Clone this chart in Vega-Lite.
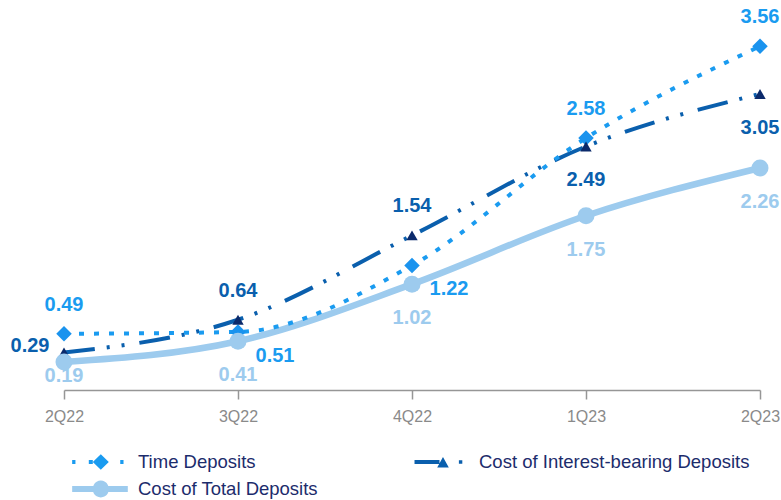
{
  "$schema": "https://vega.github.io/schema/vega-lite/v6.json",
  "width": 696,
  "height": 385,
  "autosize": {"type": "none"},
  "padding": {"left": 64, "top": 5, "right": 21, "bottom": 110},
  "background": "#ffffff",
  "config": {"view": {"stroke": null}, "font": "Liberation Sans"},
  "data": {
    "values": [
      {"series": "Time Deposits", "q": "2Q22", "v": 0.49},
      {"series": "Time Deposits", "q": "3Q22", "v": 0.51},
      {"series": "Time Deposits", "q": "4Q22", "v": 1.22},
      {"series": "Time Deposits", "q": "1Q23", "v": 2.58},
      {"series": "Time Deposits", "q": "2Q23", "v": 3.56},
      {"series": "Cost of Interest-bearing Deposits", "q": "2Q22", "v": 0.29},
      {"series": "Cost of Interest-bearing Deposits", "q": "3Q22", "v": 0.64},
      {"series": "Cost of Interest-bearing Deposits", "q": "4Q22", "v": 1.54},
      {"series": "Cost of Interest-bearing Deposits", "q": "1Q23", "v": 2.49},
      {"series": "Cost of Interest-bearing Deposits", "q": "2Q23", "v": 3.05},
      {"series": "Cost of Total Deposits", "q": "2Q22", "v": 0.19},
      {"series": "Cost of Total Deposits", "q": "3Q22", "v": 0.41},
      {"series": "Cost of Total Deposits", "q": "4Q22", "v": 1.02},
      {"series": "Cost of Total Deposits", "q": "1Q23", "v": 1.75},
      {"series": "Cost of Total Deposits", "q": "2Q23", "v": 2.26}
    ]
  },
  "encoding": {
    "x": {
      "field": "q", "type": "ordinal",
      "sort": ["2Q22", "3Q22", "4Q22", "1Q23", "2Q23"],
      "scale": {"type": "point", "padding": 0},
      "axis": {
        "title": null, "labelAngle": 0, "grid": false,
        "labelFont": "Liberation Sans", "labelFontSize": 16, "labelColor": "#8A8A8A",
        "tickColor": "#969696", "tickSize": 9, "tickWidth": 1.5,
        "domainColor": "#969696", "domainWidth": 1.5, "labelPadding": 9
      }
    },
    "y": {
      "field": "v", "type": "quantitative",
      "scale": {"domain": [-0.11, 4.0], "nice": false, "zero": false},
      "axis": null
    }
  },
  "layer": [
    {
      "transform": [{"filter": "datum.series === 'Cost of Total Deposits'"}],
      "mark": {"type": "line", "interpolate": "monotone", "strokeWidth": 6.5},
      "encoding": {
        "color": {
          "field": "series", "type": "nominal",
          "scale": {
            "domain": ["Time Deposits", "Cost of Interest-bearing Deposits", "Cost of Total Deposits"],
            "range": ["#1A9BF0", "#0A5FAD", "#9DCBEE"]
          },
          "legend": {
            "title": null, "orient": "none", "legendX": 8, "legendY": 447,
            "direction": "horizontal", "columns": 2, "columnPadding": 95, "rowPadding": 7,
            "clipHeight": 20,
            "padding": 0, "labelOffset": 10, "symbolSize": 3136, "symbolOffset": 0,
            "labelFont": "Liberation Sans", "labelFontSize": 18.5, "labelColor": "#1C2C6C", "labelLimit": 400,
            "encode": {
              "symbols": {
                "update": {
                  "shape": {"signal": "datum.value === 'Time Deposits' ? 'M-0.994,-0.07H-0.877V0.07H-0.994Z M-0.4,-0.07H-0.257V0.07H-0.4Z M-0.257,0L0.029,-0.275L0.314,0L0.029,0.275Z M0.723,-0.07H0.84V0.07H0.723Z' : datum.value === 'Cost of Total Deposits' ? 'M-0.994,-0.11H0.993V0.11H-0.994Z M-0.257,0A0.286,0.286 0 1,1 0.314,0A0.286,0.286 0 1,1 -0.257,0Z' : 'M-0.946,-0.07H-0.054V0.07H-0.946Z M0.071,-0.18L0.279,0.2H-0.136Z M0.639,-0.06H0.761V0.06H0.639Z'"},
                  "fill": {"signal": "datum.value === 'Time Deposits' ? '#1A9BF0' : datum.value === 'Cost of Total Deposits' ? '#9DCBEE' : '#0B4F9E'"},
                  "stroke": {"value": "transparent"},
                  "strokeWidth": {"value": 0},
                  "opacity": {"value": 1},
                  "size": {"value": 3136}
                }
              }
            }
          }
        }
      }
    },
    {
      "transform": [{"filter": "datum.series === 'Cost of Interest-bearing Deposits'"}],
      "mark": {"type": "line", "interpolate": "monotone", "strokeWidth": 4, "strokeDash": [31, 12, 3, 12, 3, 15]},
      "encoding": {"color": {"field": "series", "type": "nominal"}}
    },
    {
      "transform": [{"filter": "datum.series === 'Time Deposits'"}],
      "mark": {"type": "line", "interpolate": "monotone", "strokeWidth": 4, "strokeDash": [5, 10]},
      "encoding": {"color": {"field": "series", "type": "nominal"}}
    },
    {
      "transform": [{"filter": "datum.series === 'Time Deposits'"}],
      "mark": {"type": "point", "shape": "diamond", "size": 240, "filled": true, "opacity": 1, "color": "#1A93EE"}
    },
    {
      "transform": [{"filter": "datum.series === 'Cost of Interest-bearing Deposits'"}],
      "mark": {"type": "point", "shape": "triangle-up", "size": 130, "filled": true, "opacity": 1, "color": "#0B2A6B"}
    },
    {
      "transform": [{"filter": "datum.series === 'Cost of Total Deposits'"}],
      "mark": {"type": "point", "shape": "circle", "size": 289, "filled": true, "opacity": 1, "color": "#9DCBEE"}
    },
    {
      "transform": [{"filter": "indexof(['Time Deposits|2Q22','Time Deposits|1Q23','Time Deposits|2Q23','Cost of Interest-bearing Deposits|3Q22','Cost of Interest-bearing Deposits|4Q22'], datum.series + '|' + datum.q) >= 0"}],
      "mark": {"type": "text", "dy": -29, "fontSize": 20, "fontWeight": "bold", "font": "Liberation Sans", "baseline": "middle"},
      "encoding": {
        "text": {"field": "v", "type": "quantitative", "format": ".2f"},
        "color": {"field": "series", "type": "nominal"}
      }
    },
    {
      "transform": [{"filter": "indexof(['Time Deposits|3Q22','Time Deposits|4Q22'], datum.series + '|' + datum.q) >= 0"}],
      "mark": {"type": "text", "dx": 37, "dy": 24, "fontSize": 20, "fontWeight": "bold", "font": "Liberation Sans", "baseline": "middle"},
      "encoding": {
        "text": {"field": "v", "type": "quantitative", "format": ".2f"},
        "color": {"field": "series", "type": "nominal"}
      }
    },
    {
      "transform": [{"filter": "datum.series === 'Cost of Interest-bearing Deposits' && datum.q === '2Q22'"}],
      "mark": {"type": "text", "dx": -34, "dy": -7, "fontSize": 20, "fontWeight": "bold", "font": "Liberation Sans", "baseline": "middle"},
      "encoding": {
        "text": {"field": "v", "type": "quantitative", "format": ".2f"},
        "color": {"field": "series", "type": "nominal"}
      }
    },
    {
      "transform": [{"filter": "indexof(['Cost of Interest-bearing Deposits|1Q23','Cost of Interest-bearing Deposits|2Q23','Cost of Total Deposits|3Q22','Cost of Total Deposits|4Q22','Cost of Total Deposits|1Q23','Cost of Total Deposits|2Q23'], datum.series + '|' + datum.q) >= 0"}],
      "mark": {"type": "text", "dy": 34, "fontSize": 20, "fontWeight": "bold", "font": "Liberation Sans", "baseline": "middle"},
      "encoding": {
        "text": {"field": "v", "type": "quantitative", "format": ".2f"},
        "color": {"field": "series", "type": "nominal"}
      }
    },
    {
      "transform": [{"filter": "datum.series === 'Cost of Total Deposits' && datum.q === '2Q22'"}],
      "mark": {"type": "text", "dy": 14, "fontSize": 20, "fontWeight": "bold", "font": "Liberation Sans", "baseline": "middle"},
      "encoding": {
        "text": {"field": "v", "type": "quantitative", "format": ".2f"},
        "color": {"field": "series", "type": "nominal"}
      }
    }
  ]
}
